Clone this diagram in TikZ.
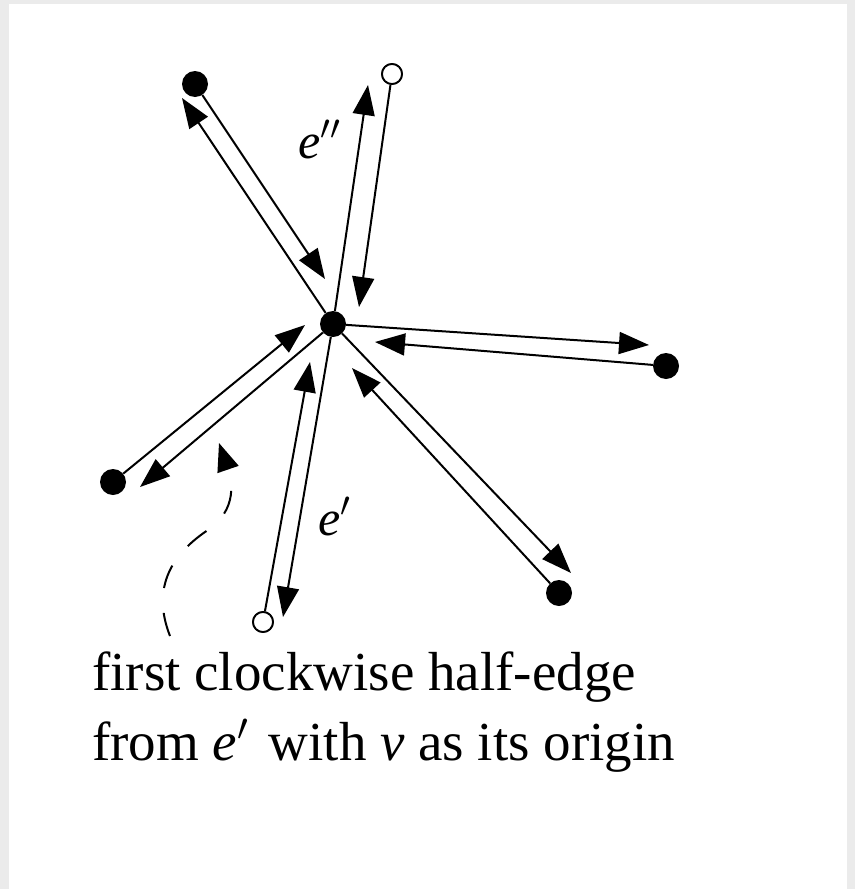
\RequirePackage{fix-cm}
\documentclass[tikz,border=0pt]{standalone}
\usepackage{fontspec}
\setmainfont{Liberation Serif}
\usetikzlibrary{arrows.meta}
\begin{document}
\begin{tikzpicture}[x=1pt,y=-1pt,
  half/.style={line width=2pt,-{Triangle[length=30pt,width=22pt]}},
  fullv/.style={circle,fill=black,minimum size=26pt,inner sep=0pt},
  openv/.style={circle,draw=black,line width=1.8pt,fill=white,minimum size=20pt,inner sep=0pt},
  lbl/.style={font=\fontsize{50}{60}\selectfont,inner sep=0pt,anchor=base west},
  caption/.style={font=\fontsize{55}{70}\selectfont,anchor=base west,inner sep=0pt},
  hint/.style={line width=2pt,dash pattern=on 24pt off 25pt,-{Triangle[length=28pt,width=22pt]}}]
% frame
\fill[black!8] (0,0) rectangle (855,889);
\fill[white] (9,4) rectangle (847,889);
\useasboundingbox (0,0) rectangle (855,889);
% vertices
\node[fullv] (v) at (333,324) {};
\node[fullv] (tl) at (195,84) {};
\node[openv] (top) at (392,74) {};
\node[fullv] (r) at (666,366) {};
\node[fullv] (br) at (559,593) {};
\node[openv] (b) at (263,622) {};
\node[fullv] (l) at (113,482) {};
% arrow tips of the half-edges
\coordinate (t1) at (182,98);
\coordinate (t2) at (325,279);
\coordinate (t3) at (368,85);
\coordinate (t4) at (359,307);
\coordinate (t5) at (649,345);
\coordinate (t6) at (375,342);
\coordinate (t7) at (571,573);
\coordinate (t8) at (352,368);
\coordinate (t9) at (283,617);
\coordinate (t10) at (310,362);
\coordinate (t11) at (140,487);
\coordinate (t12) at (305,325);
% half-edges
\draw[half] (v) -- (t1);
\draw[half] (tl) -- (t2);
\draw[half] (v) -- (t3);
\draw[half] (top) -- (t4);
\draw[half] (v) -- (t5);
\draw[half] (r) -- (t6);
\draw[half] (v) -- (t7);
\draw[half] (br) -- (t8);
\draw[half] (v) -- (t9);
\draw[half] (b) -- (t10);
\draw[half] (v) -- (t11);
\draw[half] (l) -- (t12);
% redraw open vertices on top
\node[openv] at (top) {};
\node[openv] at (b) {};
% labels
\node[lbl] (e2) at (298,158) {\textit{e}$''$};
\node[lbl] (e1) at (318,535) {\textit{e}$'$};
% dashed pointer
\coordinate (d0) at (170,636);
\coordinate (d1) at (205,532);
\coordinate (d2) at (219,443);
\draw[hint] (d0) .. controls (150,585) and (175,553) .. (d1)
  .. controls (240,510) and (231,478) .. (d2);
% caption
\node[caption] (c1) at (92,690) {first clockwise half-edge};
\node[caption] (c2) at (92,760) {from \textit{e}$'$\hspace{0.12em} with \textit{v} as its origin};
\end{tikzpicture}
\end{document}
